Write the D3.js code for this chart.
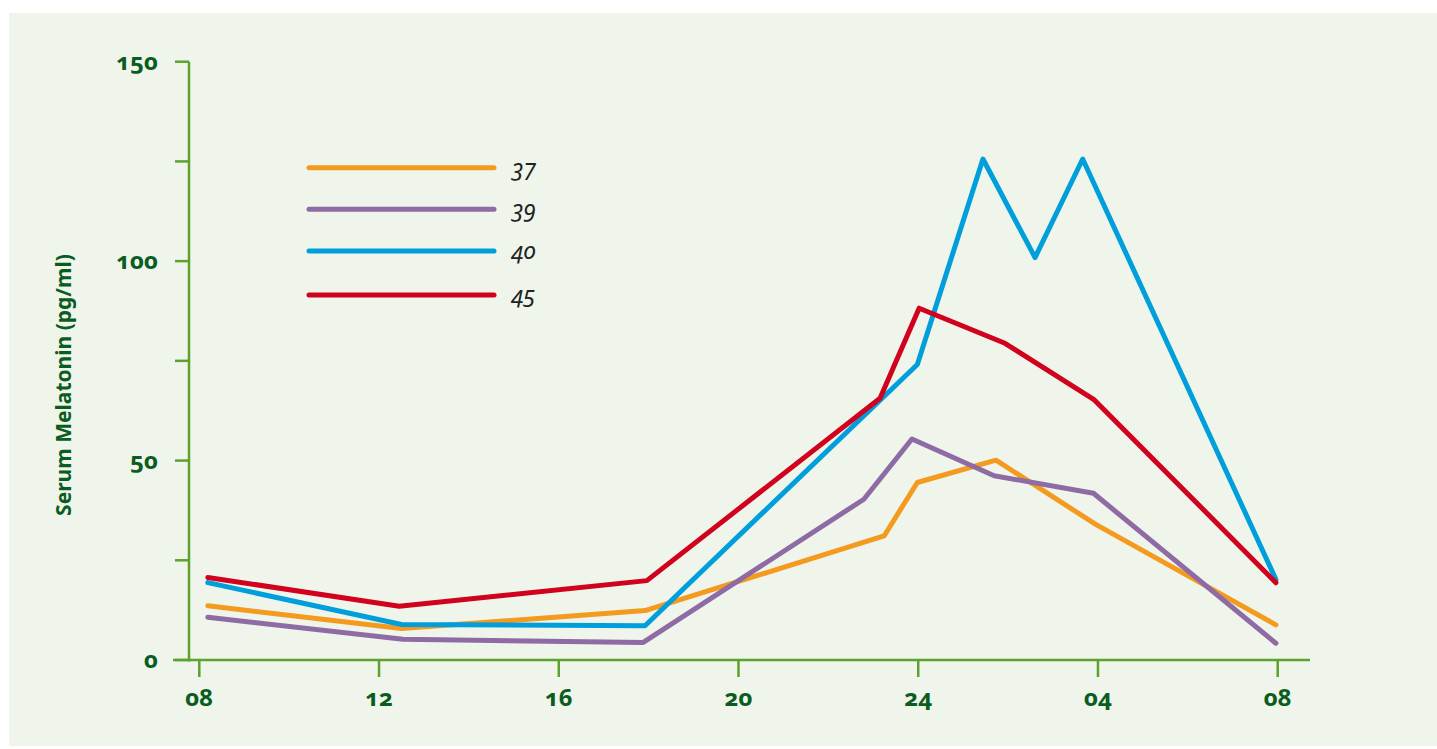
<!DOCTYPE html>
<html>
<head>
<meta charset="utf-8">
<script src="https://cdn.jsdelivr.net/npm/d3@7"></script>
<style>
  body { margin: 0; background: #fff; }
  svg text { font-family: "Noto Sans", "Open Sans", sans-serif; font-variant-numeric: oldstyle-nums; font-feature-settings: "onum" 1; }
</style>
</head>
<body>
<svg id="chart" width="1437" height="749"></svg>
<script>
// hours on a running clock: 24 = midnight, 28 = 04, 32 = 08 next day
var xTicks = [8, 12, 16, 20, 24, 28, 32];
var xTickLabels = ['08', '12', '16', '20', '24', '04', '08'];
var yTicks = [0, 25, 50, 75, 100, 125, 150];
var yTickLabels = ['0', '', '50', '', '100', '', '150'];

var seriesNames = ['37', '39', '40', '45'];
var seriesColors = ['#f39a1f', '#8e6ba4', '#009fdc', '#d0021e'];

var age37 = [[8.19, 13.6], [12.5, 7.9], [17.92, 12.4], [23.24, 31.1], [23.98, 44.5], [25.73, 50.1], [27.95, 34.0], [31.96, 8.8]];
var age39 = [[8.19, 10.7], [12.53, 5.2], [17.88, 4.4], [22.79, 40.3], [23.86, 55.4], [25.69, 46.2], [27.9, 41.8], [31.96, 4.2]];
var age40 = [[8.19, 19.4], [12.5, 8.9], [17.92, 8.6], [23.98, 74.1], [25.44, 125.6], [26.6, 100.9], [27.66, 125.6], [31.96, 20.2]];
var age45 = [[8.19, 20.7], [12.45, 13.5], [17.96, 19.9], [23.15, 65.6], [24.02, 88.2], [25.93, 79.4], [27.92, 65.2], [31.96, 19.4]];
var seriesData = [age37, age39, age40, age45];

var svg = d3.select('#chart');
var green = '#5ba22e', textGreen = '#0b5c1f';

svg.append('rect')
  .attr('x', 9).attr('y', 13)
  .attr('width', 1428).attr('height', 733)
  .attr('fill', '#eff5ea');

var x = d3.scaleLinear().domain([8, 32]).range([199.3, 1277.7]);
var y = d3.scaleLinear().domain([0, 150]).range([660, 61.7]);

// y axis
var yAxis = svg.append('g');
yAxis.append('line')
  .attr('x1', 189).attr('x2', 189)
  .attr('y1', y(150)).attr('y2', y(0) + 1.5)
  .attr('stroke', green).attr('stroke-width', 2.5);
yAxis.selectAll('.ytick').data(yTicks).enter().append('line')
  .attr('x1', 175).attr('x2', 189)
  .attr('y1', function(d){ return y(d); })
  .attr('y2', function(d){ return y(d); })
  .attr('stroke', green).attr('stroke-width', 2.5);
yAxis.selectAll('.ylab').data(yTicks).enter().append('text')
  .attr('x', 158)
  .attr('y', function(d){ return y(d) + 8; })
  .attr('text-anchor', 'end')
  .attr('font-size', 24).attr('font-weight', 'bold')
  .attr('fill', textGreen)
  .text(function(d, i){ return yTickLabels[i]; });

// x axis
var xAxis = svg.append('g');
xAxis.append('line')
  .attr('x1', 173).attr('x2', 1310)
  .attr('y1', y(0)).attr('y2', y(0))
  .attr('stroke', green).attr('stroke-width', 2.5);
xAxis.selectAll('.xtick').data(xTicks).enter().append('line')
  .attr('x1', function(d){ return x(d); })
  .attr('x2', function(d){ return x(d); })
  .attr('y1', y(0)).attr('y2', y(0) + 17)
  .attr('stroke', green).attr('stroke-width', 2.5);
xAxis.selectAll('.xlab').data(xTicks).enter().append('text')
  .attr('x', function(d){ return x(d); })
  .attr('y', 706)
  .attr('text-anchor', 'middle')
  .attr('font-size', 24).attr('font-weight', 'bold')
  .attr('fill', textGreen)
  .text(function(d, i){ return xTickLabels[i]; });

svg.append('text')
  .attr('transform', 'translate(71,385) rotate(-90)')
  .attr('text-anchor', 'middle')
  .attr('font-size', 21).attr('font-weight', 'bold')
  .attr('fill', textGreen)
  .text('Serum Melatonin (pg/ml)');

// lines
var line = d3.line()
  .x(function(d){ return x(d[0]); })
  .y(function(d){ return y(d[1]); });

svg.selectAll('.series').data(seriesData).enter().append('path')
  .attr('d', line)
  .attr('fill', 'none')
  .attr('stroke', function(d, i){ return seriesColors[i]; })
  .attr('stroke-width', 5)
  .attr('stroke-linejoin', 'round')
  .attr('stroke-linecap', 'round');

// legend
var legendY = [167.7, 209.3, 251, 295];
var legend = svg.selectAll('.legend').data(seriesNames).enter().append('g');
legend.append('line')
  .attr('x1', 309).attr('x2', 494)
  .attr('y1', function(d, i){ return legendY[i]; })
  .attr('y2', function(d, i){ return legendY[i]; })
  .attr('stroke', function(d, i){ return seriesColors[i]; })
  .attr('stroke-width', 5)
  .attr('stroke-linecap', 'round');
legend.append('text')
  .attr('x', 512)
  .attr('y', function(d, i){ return legendY[i] + 8; })
  .attr('font-size', 23).attr('font-style', 'italic')
  .attr('fill', '#222')
  .text(function(d){ return d; });
</script>
</body>
</html>
